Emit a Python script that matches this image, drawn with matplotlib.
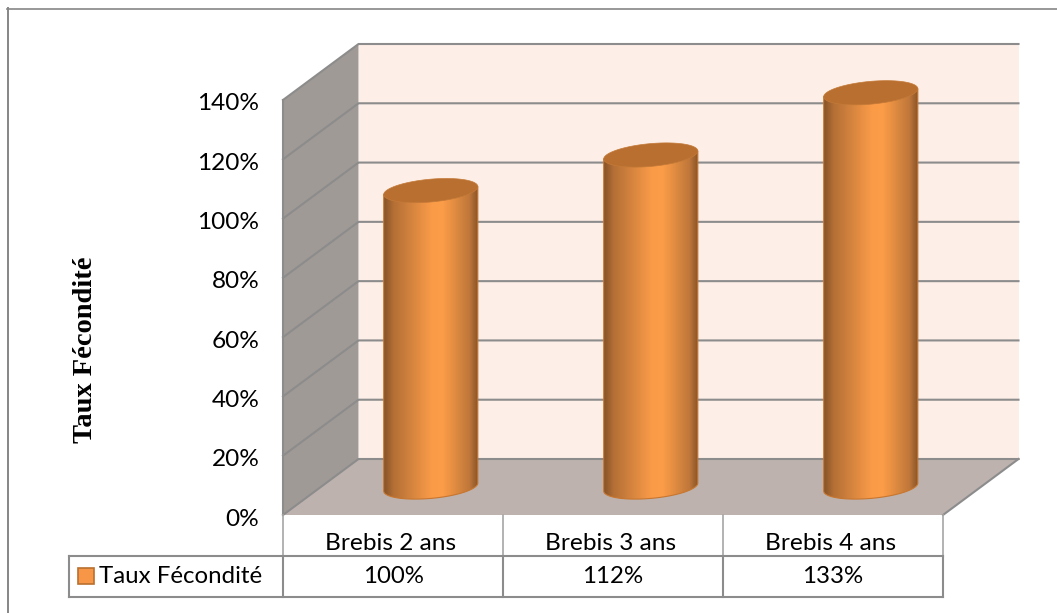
#!/usr/bin/env python3
# -*- coding: UTF-8 -*-
import numpy
import matplotlib

matplotlib.use("Agg")
import matplotlib.pyplot as plot
from matplotlib.lines import Line2D
from matplotlib.patches import PathPatch, Polygon, Rectangle
from matplotlib.path import Path
from matplotlib.transforms import ScaledTranslation

categories = ["Brebis 2 ans", "Brebis 3 ans", "Brebis 4 ans"]
values = [100, 112, 133]
value_labels = ["100%", "112%", "133%"]
series_name = "Taux Fécondité"
axis_title = "Taux Fécondité"
y_ticks = [0, 20, 40, 60, 80, 100, 120, 140]

W, H = 1057, 613

# -----------------------------------------------------------------------------
# front plane of the 3D box, in pixels of the picture
LEFT, RIGHT, BOTTOM, TOP = 283, 943, 515, 100
PX_X = (RIGHT - LEFT) / 3
PX_Y = (BOTTOM - TOP) / 140
# depth of the box, in data units
DX = 75.5 / PX_X
DY = 56 / PX_Y

GRID = "#8c8c8c"
WALL = "#a09a96"
FLOOR = "#bdb2ae"
BACK = "#fdeee7"
TOP_CAP = "#b96f2f"
EDGE = "#c8762f"
TEXT_SIZE = 17.3

plot.rcParams["font.family"] = ["Lato", "DejaVu Sans"]

fig = plot.figure(figsize=(W / 100, H / 100), dpi=100)
fig.patch.set_facecolor("white")
ax = fig.add_axes(
    [LEFT / W, 1 - BOTTOM / H, (RIGHT - LEFT) / W, (BOTTOM - TOP) / H],
    facecolor="none",
)
for side in ax.spines.values():
    side.set_visible(False)

c = dict(clip_on=False)

# outer frame of the chart
fig.add_artist(Line2D([7.5 / W, 7.5 / W], [1 - 8 / H, 0], color="#868686", lw=1.4))
fig.add_artist(Line2D([7 / W, 1], [1 - 8.5 / H, 1 - 8.5 / H], color="#868686", lw=1.2))

# walls and floor
ax.add_patch(Polygon([(DX, DY), (3 + DX, DY), (3 + DX, 140 + DY), (DX, 140 + DY)], fc=BACK, ec="none", zorder=1, **c))
ax.add_patch(Polygon([(0, 0), (DX, DY), (DX, 140 + DY), (0, 140)], fc=WALL, ec="none", zorder=1, **c))
ax.add_patch(Polygon([(0, 0), (3, 0), (3 + DX, DY), (DX, DY)], fc=FLOOR, ec="none", zorder=1, **c))

for v in y_ticks:
    ax.plot([0, DX, 3 + DX], [v, v + DY, v + DY], color=GRID, lw=1.5, zorder=2, **c)
ax.plot([0, 0], [0, 140], color=GRID, lw=1.5, zorder=2, **c)
ax.plot([3, 3 + DX], [0, DY], color=GRID, lw=1.5, zorder=2, **c)

# cylinders
t = numpy.linspace(0, 2 * numpy.pi, 200)
ex = (46 * numpy.cos(t) + 10 * numpy.sin(t)) / PX_X
ey = (12 * numpy.sin(t) + 1.5 * numpy.cos(t)) / PX_Y
i_right = numpy.argmax(ex)
i_left = numpy.argmin(ex)

stops = [0.0, 0.1, 0.5, 0.62, 0.9, 1.0]
rgb_stops = numpy.array(
    [
        [135, 84, 40],
        [180, 112, 54],
        [250, 155, 72],
        [252, 157, 72],
        [192, 120, 58],
        [132, 82, 40],
    ]
)
u = numpy.linspace(0, 1, 256)
shade = numpy.stack([numpy.interp(u, stops, rgb_stops[:, k]) for k in range(3)], axis=1)
shade = shade[numpy.newaxis, :, :].astype(numpy.uint8)

for n, v in enumerate(values):
    cx = n + 0.5 + DX / 2
    cy = DY / 2
    # outline: lower half of the bottom ellipse, then up the sides
    order = numpy.argsort(ex)
    xs = ex[order]
    chord = numpy.interp(xs, [ex[i_left], ex[i_right]], [ey[i_left], ey[i_right]])
    under = ey[order] <= chord
    bx, by = xs[under] + cx, ey[order][under] + cy
    outline = numpy.column_stack(
        [
            numpy.concatenate([bx, [cx + ex[i_right], cx + ex[i_left]]]),
            numpy.concatenate([by, [cy + v + ey[i_right], cy + v + ey[i_left]]]),
        ]
    )
    body = PathPatch(Path(numpy.vstack([outline, outline[:1]])), fc="none", ec=EDGE, lw=0.8, zorder=4, **c)
    ax.add_patch(body)
    img = ax.imshow(
        shade,
        extent=(cx + ex[i_left], cx + ex[i_right], cy + ey.min(), cy + v + ey.max()),
        aspect="auto",
        interpolation="bilinear",
        zorder=3,
    )
    img.set_clip_box(fig.bbox)  # the axes box would cut the taller bars
    img.set_clip_path(body.get_path(), ax.transData)
    ax.add_patch(Polygon(numpy.column_stack([cx + ex, cy + v + ey]), fc=TOP_CAP, ec="#c47a38", lw=0.5, zorder=5, **c))

ax.set_xlim(0, 3)
ax.set_ylim(0, 140)

# axis labels
ax.set_yticks(y_ticks)
ax.set_yticklabels([f"{v}%" for v in y_ticks], fontsize=TEXT_SIZE + 0.3, color="black")
ax.tick_params(axis="y", length=0, pad=17)
shift = ScaledTranslation(0, -2 / 100, fig.dpi_scale_trans)
for label in ax.get_yticklabels():
    label.set_transform(label.get_transform() + shift)
ax.set_xticks([0.5 - 2.5 / PX_X, 1.5 - 2.5 / PX_X, 2.5 - 2.5 / PX_X])
ax.set_xticklabels(categories, fontsize=TEXT_SIZE + 0.3, color="black")
ax.tick_params(axis="x", length=0, pad=13)
fig.text(
    85 / W,
    1 - 350 / H,
    axis_title,
    rotation=90,
    ha="center",
    va="center",
    fontsize=20.5,
    fontweight="bold",
    family="Liberation Serif",
)

# data table below the axis
row1 = -41 / PX_Y
row2 = -82 / PX_Y
x0 = (69 - LEFT) / PX_X
ax.plot([x0, 3], [row1, row1], color=GRID, lw=1.5, **c)
ax.plot([x0, 3], [row2, row2], color=GRID, lw=1.5, **c)
ax.plot([x0, x0], [row1, row2], color=GRID, lw=1.5, **c)
for k in range(4):
    ax.plot([k, k], [0, row1], color="#a6a6a6", lw=1.2, **c)
    ax.plot([k, k], [row1, row2], color=GRID, lw=1.5, **c)
for n, label in enumerate(value_labels):
    ax.text(n + 0.5, (row1 + row2) / 2, label, ha="center", va="center", fontsize=TEXT_SIZE, **c)
ax.add_patch(
    Rectangle((x0 + 8.5 / PX_X, row1 - 27.5 / PX_Y), 16 / PX_X, 15.5 / PX_Y, fc="#f79646", ec="#b96f2f", lw=1.2, **c)
)
ax.text(x0 + 30 / PX_X, (row1 + row2) / 2, series_name, ha="left", va="center", fontsize=TEXT_SIZE, **c)

fig.savefig("out.png", dpi=100)
